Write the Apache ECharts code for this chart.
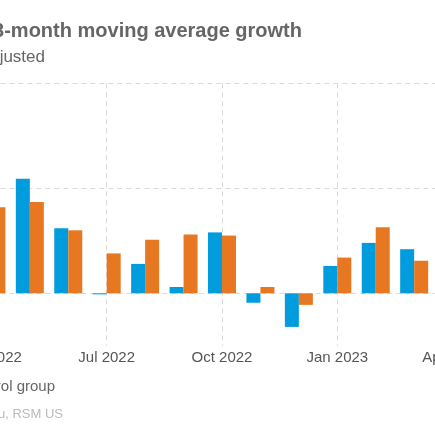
<!DOCTYPE html>
<html>
<head>
<meta charset="utf-8">
<script src="https://cdn.jsdelivr.net/npm/echarts@6/dist/echarts.min.js"></script>
<style>
    html, body { margin: 0; padding: 0; background: #fff; overflow: hidden; }
    body { width: 435px; height: 435px; position: relative; }
    /* the reference shows a cut-out of a wider chart, so the chart is shifted left */
    #main { position: absolute; left: -200px; top: 0; width: 700px; height: 435px; }
</style>
</head>
<body>
<div id="main"></div>
<script>
// months on the x axis (the picture only shows part of the chart)
var months = ['Apr 2022', 'May 2022', 'Jun 2022', 'Jul 2022', 'Aug 2022', 'Sep 2022',
    'Oct 2022', 'Nov 2022', 'Dec 2022', 'Jan 2023', 'Feb 2023', 'Mar 2023', 'Apr 2023'];

// 3-month moving average growth, %
// null = bar falls outside the visible frame
var headline = [null, 1.09, 0.62, -0.01, 0.28, 0.06, 0.58, -0.09, -0.32, 0.26, 0.48, 0.42, null];
var controlGroup = [0.82, 0.87, 0.60, 0.38, 0.51, 0.56, 0.55, 0.06, -0.11, 0.34, 0.63, 0.31, null];

var seriesNames = ['Headline', 'Control group'];

var gridColor = '#d9d9d9';
var fontFamily = '"Liberation Sans", Arial, sans-serif';
var shift = 200; // px of the chart hidden on the left

var myChart = echarts.init(document.getElementById('main'));

var option = {
    animation: false,
    color: ['#009CDE', '#E87722'],
    textStyle: { fontFamily: fontFamily },
    title: [
        {
            // right edge of each text is placed at "left"
            text: 'Retail sales: 3-month moving average growth',
            left: shift + 302, top: 21, padding: 0, textAlign: 'right', textVerticalAlign: 'top',
            textStyle: { fontSize: 20, fontWeight: 'bold', color: '#666', lineHeight: 20, fontFamily: fontFamily }
        },
        {
            text: 'Seasonally adjusted',
            left: shift + 45, top: 48.5, padding: 0, textAlign: 'right', textVerticalAlign: 'top',
            textStyle: { fontSize: 17, fontWeight: 'normal', color: '#666', lineHeight: 17, fontFamily: fontFamily }
        },
        {
            text: 'Source: Census Bureau, RSM US',
            left: shift + 63, top: 408, padding: 0, textAlign: 'right', textVerticalAlign: 'top',
            textStyle: { fontSize: 13, fontWeight: 'normal', color: '#bbb', lineHeight: 13, fontFamily: fontFamily }
        }
    ],
    legend: {
        data: seriesNames,
        right: 700 - shift - 55,
        top: 379.5,
        padding: 0,
        itemWidth: 15,
        itemHeight: 15,
        itemGap: 20,
        icon: 'rect',
        textStyle: { fontSize: 15, color: '#666', fontFamily: fontFamily }
    },
    grid: {
        left: shift - 8.6,
        right: 700 - shift - 452.6,
        top: 83.3,
        bottom: 89.2
    },
    xAxis: {
        type: 'category',
        data: months,
        boundaryGap: false,
        axisLine: { show: false },
        axisTick: { show: false },
        axisLabel: {
            interval: 2,
            margin: 5,
            fontSize: 15,
            lineHeight: 15,
            color: '#555',
            fontFamily: fontFamily
        },
        splitLine: {
            show: true,
            interval: 2,
            lineStyle: { color: gridColor, type: [5, 4], width: 1 }
        }
    },
    yAxis: {
        type: 'value',
        min: -0.5,
        max: 2,
        interval: 0.5,
        axisLine: { show: false },
        axisTick: { show: false },
        axisLabel: {
            fontSize: 15,
            color: '#555',
            formatter: function (v) { return v % 1 === 0 ? v + '%' : ''; }
        },
        splitLine: {
            show: true,
            // only 0, 1 and 2 get a visible line
            lineStyle: { color: ['rgba(0,0,0,0)', gridColor], type: [5, 4], width: 1 }
        }
    },
    series: [
        {
            name: seriesNames[0],
            type: 'bar',
            data: headline,
            barWidth: 14,
            barGap: '0%'
        },
        {
            name: seriesNames[1],
            type: 'bar',
            data: controlGroup,
            barWidth: 14,
            barGap: '0%'
        }
    ]
};

myChart.setOption(option);
</script>
</body>
</html>
